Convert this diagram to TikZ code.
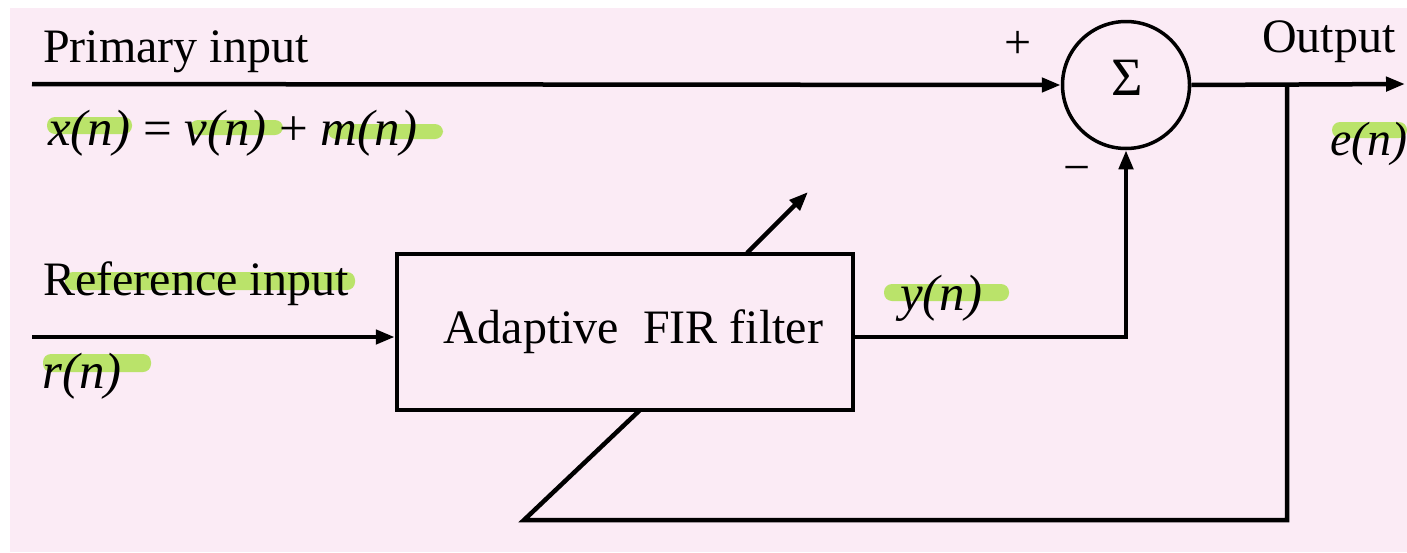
\documentclass[tikz,border=0pt]{standalone}
\usepackage{fontspec}
\setmainfont{Liberation Serif}
\usetikzlibrary{arrows.meta}
\definecolor{bgpink}{RGB}{251,235,245}
\definecolor{hl}{RGB}{186,227,106}
\begin{document}
\begin{tikzpicture}[x=1pt,y=-1pt,
  wire/.style={line width=4.5pt},
  arr/.style={wire,-{Triangle[length=19pt,width=14pt]}},
  lbl/.style={font=\fontsize{48}{56}\selectfont, inner sep=0pt, anchor=base west},
  eqlbl/.style={font=\fontsize{51}{58}\selectfont, inner sep=0pt, anchor=base west},
  sign/.style={font=\fontsize{48}{56}\selectfont, inner sep=0pt},
  hlbar/.style={fill=hl, rounded corners=8pt},
  blockbox/.style={draw, line width=4.5pt, fill=bgpink, minimum width=456pt, minimum height=156pt,
                   font=\fontsize{48}{56}\selectfont, inner sep=0pt},
  sumnode/.style={circle, draw, line width=3.5pt, minimum size=127pt, inner sep=0pt},
  sumlabel/.style={font=\fontsize{54}{60}\selectfont, inner sep=0pt}
]
\useasboundingbox (0,0) rectangle (1407,552);
\fill[white] (0,0) rectangle (1407,552);
\fill[bgpink] (10,8) rectangle (1407,552);

% highlights
\fill[hlbar] (47,117) rectangle (132,134);
\fill[hlbar] (190,120) rectangle (283,135);
\fill[hlbar] (328,124) rectangle (443,139);
\fill[hlbar] (1332,122) rectangle (1407,138);
\fill[hlbar] (65,272) rectangle (355,290);
\fill[hlbar] (43,354) rectangle (151,372);
\fill[hlbar] (884,284) rectangle (1009,301);

% coordinates
\coordinate (pin) at (32,84);
\coordinate (rin) at (32,337);
\coordinate (out) at (1405,84);
\coordinate (j) at (1287,84);
\coordinate (fbend) at (524,520);
\coordinate (fbin) at (640,410);
\coordinate (adjs) at (747,253);
\coordinate (adje) at (808,192);

% feedback line (drawn before the box)
\draw[wire, line join=miter] (j) |- (fbend) -- (fbin);

% nodes
\node[blockbox] (fir) at (625,332) {\hspace*{16pt}Adaptive\ \ FIR filter};
\node[sumnode] (sum) at (1126,85) {};
\node[sumlabel] (sigma) at (1127,78) {Σ};

% connectors
\draw[arr] (pin) -- (sum.west);
\draw[arr] (rin) -- (rin -| fir.west);
\draw[arr] (rin -| fir.east) -| (sum.south);
\draw[arr] (sum.east) -- (out);
\draw[arr] (adjs) -- (adje);

% labels
\node[lbl] (tprim) at (43,62) {Primary input};
\node[eqlbl] (teq) at (48,145) {\textit{x(n)} = \textit{v(n)} + \textit{m(n)}};
\node[lbl] (tout) at (1262,52) {Output};
\node[lbl] (ten) at (1330,155) {\textit{e(n)}};
\node[lbl] (tref) at (43,295) {Reference input};
\node[eqlbl] (trn) at (42,388) {\textit{r(n)}};
\node[eqlbl] (tyn) at (900,310) {\textit{y(n)}};
\node[sign] (plus) at (1018,45) {+};
\node[sign] (minus) at (1077,175) {−};
\end{tikzpicture}
\end{document}
